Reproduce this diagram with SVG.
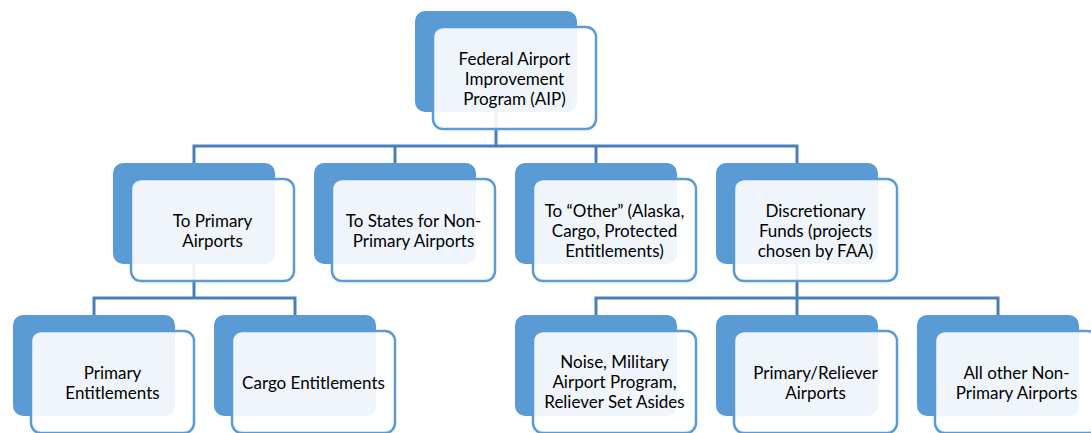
<svg xmlns="http://www.w3.org/2000/svg" width="1091" height="433" viewBox="0 0 1091 433">
  <style>
    .back { fill: #5b9bd5; }
    .front { fill: #ffffff; fill-opacity: 0.9; stroke: #5b9bd5; stroke-width: 2.5; }
    .link { fill: none; stroke: #4a7eb8; stroke-width: 3; stroke-linejoin: miter; }
    .label { font-family: Lato, "Liberation Sans", sans-serif; font-size: 17px; fill: #000000; text-anchor: middle; }
  </style>
  <rect width="1091" height="433" fill="#ffffff"/>

  <!-- connectors (drawn under the nodes) -->
  <g id="connectors">
    <path class="link" d="M496 112 V146"/>
    <path class="link" d="M194 163 V146 H797 V163"/>
    <path class="link" d="M395 146 V163"/>
    <path class="link" d="M596 146 V163"/>
    <path class="link" d="M194 264 V298"/>
    <path class="link" d="M94 315 V298 H295 V315"/>
    <path class="link" d="M797 264 V298"/>
    <path class="link" d="M596 315 V298 H998 V315"/>
    <path class="link" d="M797 298 V315"/>
  </g>

  <!-- level 1 -->
  <g id="aip">
    <rect class="back" x="415" y="11" width="162" height="101" rx="10"/>
    <rect class="front" x="433" y="27" width="163" height="102" rx="10"/>
    <text class="label"><tspan x="514.5" y="65">Federal Airport</tspan><tspan x="514.5" y="85">Improvement</tspan><tspan x="514.5" y="105">Program (AIP)</tspan></text>
  </g>

  <!-- level 2 -->
  <g id="primary-airports">
    <rect class="back" x="113" y="163" width="162" height="101" rx="10"/>
    <rect class="front" x="131" y="179" width="163" height="102" rx="10"/>
    <text class="label"><tspan x="212.5" y="227">To Primary</tspan><tspan x="212.5" y="247">Airports</tspan></text>
  </g>
  <g id="states">
    <rect class="back" x="314" y="163" width="162" height="101" rx="10"/>
    <rect class="front" x="332" y="179" width="163" height="102" rx="10"/>
    <text class="label"><tspan x="413.5" y="227">To States for Non-</tspan><tspan x="413.5" y="247">Primary Airports</tspan></text>
  </g>
  <g id="other">
    <rect class="back" x="515" y="163" width="162" height="101" rx="10"/>
    <rect class="front" x="533" y="179" width="163" height="102" rx="10"/>
    <text class="label"><tspan x="614.5" y="217">To “Other” (Alaska,</tspan><tspan x="614.5" y="237">Cargo, Protected</tspan><tspan x="614.5" y="257">Entitlements)</tspan></text>
  </g>
  <g id="discretionary">
    <rect class="back" x="716" y="163" width="162" height="101" rx="10"/>
    <rect class="front" x="734" y="179" width="163" height="102" rx="10"/>
    <text class="label"><tspan x="815.5" y="217">Discretionary</tspan><tspan x="815.5" y="237">Funds (projects</tspan><tspan x="815.5" y="257">chosen by FAA)</tspan></text>
  </g>

  <!-- level 3 -->
  <g id="primary-entitlements">
    <rect class="back" x="13" y="315" width="162" height="101" rx="10"/>
    <rect class="front" x="31" y="331" width="163" height="102" rx="10"/>
    <text class="label"><tspan x="112.5" y="379">Primary</tspan><tspan x="112.5" y="399">Entitlements</tspan></text>
  </g>
  <g id="cargo-entitlements">
    <rect class="back" x="214" y="315" width="162" height="101" rx="10"/>
    <rect class="front" x="232" y="331" width="163" height="102" rx="10"/>
    <text class="label" x="313.5" y="389">Cargo Entitlements</text>
  </g>
  <g id="set-asides">
    <rect class="back" x="515" y="315" width="162" height="101" rx="10"/>
    <rect class="front" x="533" y="331" width="163" height="102" rx="10"/>
    <text class="label"><tspan x="614.5" y="368">Noise, Military</tspan><tspan x="614.5" y="388">Airport Program,</tspan><tspan x="614.5" y="408">Reliever Set Asides</tspan></text>
  </g>
  <g id="primary-reliever">
    <rect class="back" x="716" y="315" width="162" height="101" rx="10"/>
    <rect class="front" x="734" y="331" width="163" height="102" rx="10"/>
    <text class="label"><tspan x="815.5" y="379">Primary/Reliever</tspan><tspan x="815.5" y="399">Airports</tspan></text>
  </g>
  <g id="non-primary">
    <rect class="back" x="917" y="315" width="162" height="101" rx="10"/>
    <rect class="front" x="935" y="331" width="163" height="102" rx="10"/>
    <text class="label"><tspan x="1016.5" y="379">All other Non-</tspan><tspan x="1016.5" y="399">Primary Airports</tspan></text>
  </g>
</svg>
